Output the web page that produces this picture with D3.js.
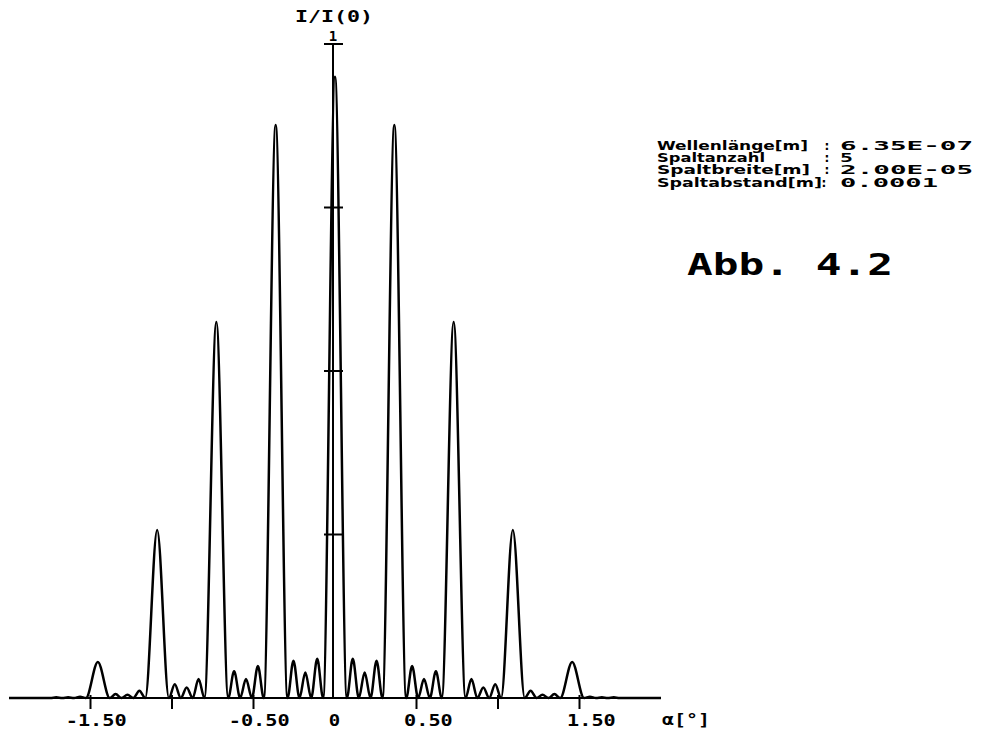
<!DOCTYPE html>
<html>
<head>
<meta charset="utf-8">
<script src="https://cdn.jsdelivr.net/npm/d3@7/dist/d3.min.js"></script>
<style>
body{margin:0;background:#fff;}
.axisLine{stroke:#000;stroke-width:2;fill:none;}
.curve{fill:none;stroke:#000;stroke-width:2.5;stroke-linejoin:round;}
.lbl{font-family:"DejaVu Sans Mono",monospace;font-weight:bold;fill:#000;}
.info{font-family:"DejaVu Sans",sans-serif;font-weight:bold;fill:#000;}
</style>
</head>
<body>
<script>
//curve vertices: angle alpha [deg] and I/I(0)
var angles = [
  -2.000, -1.746, -1.710, -1.673, -1.637, -1.601, -1.564, -1.528,
  -1.455, -1.382, -1.346, -1.310, -1.273, -1.237, -1.200, -1.164,
  -1.091, -1.019, -0.983, -0.946, -0.910, -0.873, -0.837, -0.801,
  -0.728, -0.655, -0.619, -0.582, -0.546, -0.510, -0.473, -0.437,
  -0.364, -0.291, -0.255, -0.218, -0.182, -0.146, -0.109, -0.073,
   0.000,
   0.073,  0.109,  0.146,  0.182,  0.218,  0.255,  0.291,  0.364,
   0.437,  0.473,  0.510,  0.546,  0.582,  0.619,  0.655,  0.728,
   0.801,  0.837,  0.873,  0.910,  0.946,  0.983,  1.019,  1.091,
   1.164,  1.200,  1.237,  1.273,  1.310,  1.346,  1.382,  1.455,
   1.528,  1.564,  1.601,  1.637,  1.673,  1.710,  1.746,  2.000
];
var intensity = [
   0.000,  0.000,  0.001,  0.000,  0.001,  0.000,  0.002,  0.000,
   0.055,  0.000,  0.006,  0.000,  0.005,  0.000,  0.011,  0.000,
   0.257,  0.000,  0.021,  0.000,  0.016,  0.000,  0.029,  0.000,
   0.575,  0.000,  0.041,  0.000,  0.029,  0.000,  0.049,  0.000,
   0.876,  0.000,  0.057,  0.000,  0.039,  0.000,  0.060,  0.000,
   0.950,
   0.000,  0.060,  0.000,  0.039,  0.000,  0.057,  0.000,  0.876,
   0.000,  0.049,  0.000,  0.029,  0.000,  0.041,  0.000,  0.575,
   0.000,  0.029,  0.000,  0.016,  0.000,  0.021,  0.000,  0.257,
   0.000,  0.011,  0.000,  0.005,  0.000,  0.006,  0.000,  0.055,
   0.000,  0.002,  0.000,  0.001,  0.000,  0.001,  0.000,  0.000
];

//axis ticks and labels
var xTicks = [-1.5, -1.0, -0.5, 0, 0.5, 1.0, 1.5];
var xTickLabels = ["-1.50", "", "-0.50", "0", "0.50", "", "1.50"];
var yTicks = [0.25, 0.5, 0.75, 1];
var yTickLabels = ["", "", "", "1"];

//parameter block
var infoNames = ["Wellenlänge[m]", "Spaltanzahl", "Spaltbreite[m]", "Spaltabstand[m]"];
var infoValues = ["6.35E-07", "5", "2.00E-05", "0.0001"];

(function(){

//frame
var width = 990,
    height = 731;

var svg = d3.select("body")
    .append("svg")
    .attr("width", width)
    .attr("height", height);

//scales
var x = d3.scaleLinear()
    .domain([-2, 2])
    .range([9, 661]);

var y = d3.scaleLinear()
    .domain([0, 1])
    .range([698, 44]);

//x axis line
svg.append("line")
    .attr("class", "axisLine")
    .attr("x1", x(-2)).attr("x2", x(2))
    .attr("y1", y(0)).attr("y2", y(0));

//x ticks
svg.selectAll(".xtick")
    .data(xTicks.filter(function(d){ return d != 0; }))
    .enter()
    .append("line")
    .attr("class", "axisLine xtick")
    .attr("x1", function(d){ return x(d); })
    .attr("x2", function(d){ return x(d); })
    .attr("y1", y(0) - 3)
    .attr("y2", y(0) + 11);

//x tick labels, decimal point sits on the tick
var cw = 12.4;
svg.selectAll(".xlab")
    .data(xTicks)
    .enter()
    .append("text")
    .attr("class", "lbl xlab")
    .attr("font-size", 15)
    .attr("y", 726)
    .attr("x", function(d, i){
        var s = xTickLabels[i];
        var dot = s.indexOf(".");
        if (dot < 0) return x(d) - s.length * cw / 2;
        return x(d) - dot * cw;
    })
    .attr("textLength", function(d, i){ return Math.max(xTickLabels[i].length * cw - 1, 1); })
    .attr("lengthAdjust", "spacingAndGlyphs")
    .text(function(d, i){ return xTickLabels[i]; })
    .filter(function(d, i){ return xTickLabels[i] == ""; }).remove();

//x axis title
svg.append("text")
    .attr("class", "lbl")
    .attr("font-size", 15)
    .attr("x", 662)
    .attr("y", 725)
    .attr("textLength", 48)
    .attr("lengthAdjust", "spacingAndGlyphs")
    .text("α[°]");

//y axis line
var x0 = x(0) - 2;
svg.append("line")
    .attr("class", "axisLine")
    .attr("x1", x0).attr("x2", x0)
    .attr("y1", y(1)).attr("y2", y(0));

//y ticks
svg.selectAll(".ytick")
    .data(yTicks)
    .enter()
    .append("line")
    .attr("class", "axisLine ytick")
    .attr("x1", x0 - 9)
    .attr("x2", x0 + 10)
    .attr("y1", function(d){ return y(d); })
    .attr("y2", function(d){ return y(d); });

svg.selectAll(".ylab")
    .data(yTicks)
    .enter()
    .append("text")
    .attr("class", "lbl ylab")
    .attr("font-size", 14)
    .attr("text-anchor", "middle")
    .attr("x", x0)
    .attr("y", function(d){ return y(d) - 3; })
    .text(function(d, i){ return yTickLabels[i]; });

//y axis title
svg.append("text")
    .attr("class", "lbl")
    .attr("font-size", 16)
    .attr("x", 295)
    .attr("y", 22)
    .attr("textLength", 78)
    .attr("lengthAdjust", "spacingAndGlyphs")
    .text("I/I(0)");

//intensity curve
var pts = angles.map(function(a, i){ return [a, intensity[i]]; });

var line = d3.line()
    .x(function(d){ return x(d[0]); })
    .y(function(d){ return y(d[1]); })
    .curve(d3.curveMonotoneX);

svg.append("path")
    .datum(pts)
    .attr("class", "curve")
    .attr("d", line);

//parameter block on the right
var nameW = [151, 108, 153, 165],
    valW = [133, 13, 133, 98],
    colonX = [827, 827, 827, 824];

var info = svg.selectAll(".infoRow")
    .data(infoNames)
    .enter()
    .append("g")
    .attr("class", "infoRow")
    .attr("transform", function(d, i){ return "translate(0," + (150 + i * 12.2) + ")"; });

info.append("text")
    .attr("class", "info")
    .attr("font-size", 12)
    .attr("x", 657)
    .attr("textLength", function(d, i){ return nameW[i]; })
    .attr("lengthAdjust", "spacingAndGlyphs")
    .text(function(d){ return d; });

info.append("text")
    .attr("class", "info")
    .attr("font-size", 12)
    .attr("text-anchor", "middle")
    .attr("x", function(d, i){ return colonX[i]; })
    .text(":");

info.append("text")
    .attr("class", "lbl")
    .attr("font-size", 12)
    .attr("x", 840)
    .attr("textLength", function(d, i){ return valW[i]; })
    .attr("lengthAdjust", "spacingAndGlyphs")
    .text(function(d, i){ return infoValues[i]; });

//figure number
svg.append("text")
    .attr("class", "lbl")
    .attr("font-size", 30)
    .attr("x", 687)
    .attr("y", 275)
    .attr("textLength", 206)
    .attr("lengthAdjust", "spacingAndGlyphs")
    .text("Abb.  4.2");

})();
</script>
</body>
</html>
